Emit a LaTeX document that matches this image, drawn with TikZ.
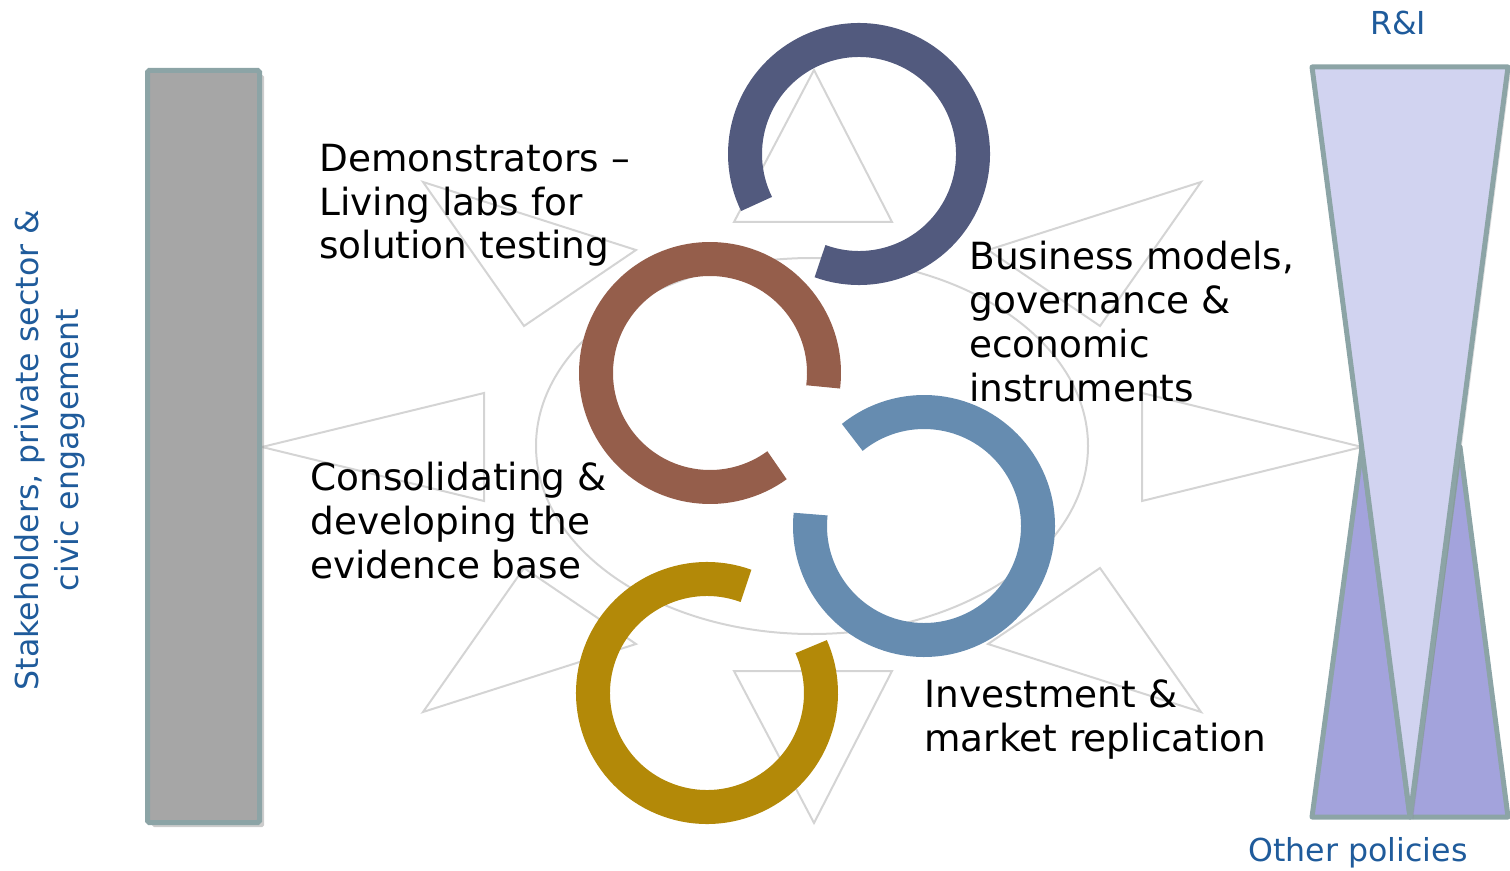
\documentclass[tikz,border=0pt]{standalone}
\usepackage{fontspec}
\setmainfont{DejaVu Sans}
\usetikzlibrary{shadows}

\definecolor{ringnavy}{HTML}{525A7E}
\definecolor{ringbrown}{HTML}{955E4B}
\definecolor{ringsteel}{HTML}{668CB0}
\definecolor{ringgold}{HTML}{B38908}
\definecolor{frame}{HTML}{8CA4A6}
\definecolor{barfill}{HTML}{A6A6A6}
\definecolor{lilac}{HTML}{D1D3F0}
\definecolor{policyfill}{HTML}{A3A3DC}
\definecolor{labelblue}{HTML}{1F5B9B}

\begin{document}
\begin{tikzpicture}[
	x=0.02cm, y=-0.02cm,
	ghost/.style={draw=black!17, line width=0.04cm},
	ring/.style={line width=0.68cm, line cap=butt},
	stagetext/.style={anchor=base west, align=left, inner sep=0pt,
		font=\fontsize{21.3}{25}\selectfont},
	sidetext/.style={text=labelblue, align=center, inner sep=0pt,
		font=\fontsize{18}{22.7}\selectfont},
	panel/.style={draw=frame, line width=0.1cm}
]
	\useasboundingbox (0,0) rectangle (1510,871);

	% Background star
	\draw[ghost] (812,446) ellipse [x radius=276, y radius=188];
	\draw[ghost] (814,70) -- (734,222) -- (892,222) -- cycle;
	\draw[ghost] (814,823) -- (734,671) -- (892,671) -- cycle;
	\draw[ghost] (262,447) -- (484,393) -- (484,501) -- cycle;
	\draw[ghost] (1362,447) -- (1142,393) -- (1142,501) -- cycle;
	\draw[ghost] (423,182) -- (636,250) -- (524,326) -- cycle;
	\draw[ghost] (1201,182) -- (988,250) -- (1100,326) -- cycle;
	\draw[ghost] (423,712) -- (636,644) -- (524,568) -- cycle;
	\draw[ghost] (1201,712) -- (988,644) -- (1100,568) -- cycle;

	% Stakeholder bar
	\draw[panel, fill=barfill, rounded corners=1pt,
		drop shadow={shadow xshift=0.09cm, shadow yshift=-0.09cm, opacity=0.4}]
		(147.5,70.5) rectangle (259.5,822.5);
	\node[sidetext, rotate=90] (stake) at (50,450)
		{Stakeholders, private sector \&\\civic engagement};

	% Policy hourglass
	\draw[panel, fill=policyfill, line join=round] (1312,817) -- (1362,447) -- (1410,817) -- cycle;
	\draw[panel, fill=policyfill, line join=round] (1410,817) -- (1460,447) -- (1508,817) -- cycle;
	\draw[panel, fill=lilac, line join=round,
		drop shadow={shadow xshift=0.06cm, shadow yshift=-0.06cm, opacity=0.25}]
		(1312,67) -- (1508,67) -- (1410,817) -- cycle;
	\node[sidetext] (ri) at (1398,23) {R\&I};
	\node[sidetext] (other) at (1358,853) {Other policies};

	% Rings
	\foreach \cx/\cy/\col/\sa/\ea in {
		859/154/ringnavy/110/-206,
		710/373/ringbrown/7/-306,
		924/526/ringsteel/-174/-489,
		707/693/ringgold/-70/-384} {
		\draw[ring, \col] (\cx,\cy) ++(\sa:114) arc[start angle=\sa, end angle=\ea, radius=114];
	}

	% Stages (anchored on the last line)
	\node[stagetext] (demo) at (319,259) {Demonstrators –\\Living labs for\\solution testing};
	\node[stagetext] (business) at (969,401) {Business models,\\governance \&\\economic\\instruments};
	\node[stagetext] (evidence) at (310,578) {Consolidating \&\\developing the\\evidence base};
	\node[stagetext] (market) at (924,751) {Investment \&\\market replication};
\end{tikzpicture}
\end{document}
